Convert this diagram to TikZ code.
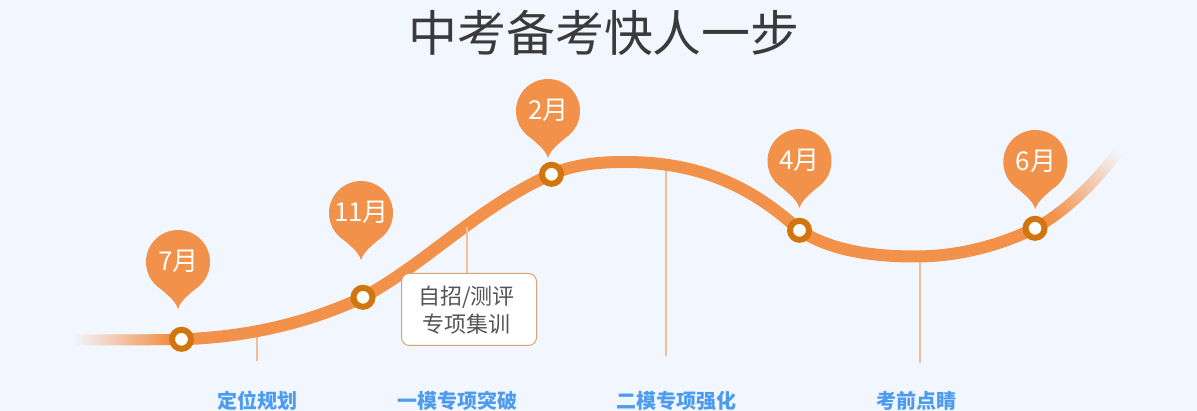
\documentclass[tikz,border=0pt]{standalone}
\usepackage{fontspec}
\setmainfont{Noto Sans CJK SC}
\definecolor{bgc}{HTML}{F2F7FF}
\definecolor{curvec}{HTML}{F29149}
\definecolor{ringc}{HTML}{D2750E}
\definecolor{stemc}{HTML}{F2BD97}
\definecolor{boxc}{HTML}{D4A673}
\definecolor{bluec}{HTML}{4D9BEF}
\definecolor{titlec}{HTML}{3A3A3A}
\definecolor{boxt}{HTML}{555555}
\tikzset{
  stem/.style={draw=stemc,line width=1.5pt},
  mainline/.style={draw=curvec,line width=12pt},
  stagelabel/.style={font=\fontsize{20}{20}\selectfont\bfseries,text=bluec,inner sep=0pt},
  monthlabel/.style={font=\fontsize{26}{26}\selectfont,text=white,inner sep=0pt},
  ringmark/.style={circle,draw=ringc,line width=6pt,fill=white,minimum size=19pt,inner sep=0pt},
  notebox/.style={draw=boxc,line width=1pt,fill=white,rounded corners=8pt,minimum width=135pt,minimum height=72pt,inner sep=0pt},
  notetext/.style={inner sep=0pt,align=center,text=boxt,font=\fontsize{22}{28}\selectfont},
  pinmark/.pic={
    \fill[curvec] (0,0) circle[radius=32pt];
    \fill[curvec] (-29,14) -- (-21,23) .. controls (-14,31) and (-3,37) .. (0,47) .. controls (3,37) and (14,31) .. (21,23) -- (29,14) -- cycle;
  }
}
\begin{document}
\begin{tikzpicture}[x=1pt,y=-1pt]
\useasboundingbox (0,0) rectangle (1197,411);
\fill[bgc] (0,0) rectangle (1197,411);
\node[inner sep=0pt,text=titlec,font=\fontsize{48.9}{48.9}\selectfont] (title) at (604,33) {中考备考快人一步};

% stems
\coordinate (s1) at (257,329);
\coordinate (s1e) at (257,361);
\coordinate (s2) at (467,227);
\coordinate (s3) at (666,167);
\coordinate (s3e) at (666,356);
\coordinate (s4) at (920,257);
\coordinate (s4e) at (920,363);
\draw[stem] (s1) -- (s1e);
\draw[stem] (s3) -- (s3e);
\draw[stem] (s4) -- (s4e);

% fading ends
\foreach \i in {0,...,49}{
  \pgfmathsetmacro{\ta}{\i/50}
  \pgfmathsetmacro{\tb}{(\i+1.3)/50}
  \pgfmathsetmacro{\p}{min(100,\ta*100/0.85)}
  \pgfmathsetmacro{\xa}{72*(1-\ta)^3+3*110*(1-\ta)^2*\ta+3*150*(1-\ta)*\ta^2+181.5*\ta^3}
  \pgfmathsetmacro{\xb}{72*(1-\tb)^3+3*110*(1-\tb)^2*\tb+3*150*(1-\tb)*\tb^2+181.5*\tb^3}
  \pgfmathsetmacro{\ya}{340*(1-\ta)^3+3*340*(1-\ta)^2*\ta+3*340*(1-\ta)*\ta^2+339.3*\ta^3}
  \pgfmathsetmacro{\yb}{340*(1-\tb)^3+3*340*(1-\tb)^2*\tb+3*340*(1-\tb)*\tb^2+339.3*\tb^3}
  \draw[draw={curvec!\p!bgc},line width=11pt] (\xa,\ya) -- (\xb,\yb);
}
\foreach \i in {0,...,49}{
  \pgfmathsetmacro{\ta}{\i/50}
  \pgfmathsetmacro{\tb}{(\i+1.3)/50}
  \pgfmathsetmacro{\p}{max(0,min(100,(1-\ta)*100/0.8))}
  \pgfmathsetmacro{\xa}{1035*(1-\ta)^3+3*1065*(1-\ta)^2*\ta+3*1095*(1-\ta)*\ta^2+1118*\ta^3}
  \pgfmathsetmacro{\xb}{1035*(1-\tb)^3+3*1065*(1-\tb)^2*\tb+3*1095*(1-\tb)*\tb^2+1118*\tb^3}
  \pgfmathsetmacro{\ya}{228.3*(1-\ta)^3+3*212*(1-\ta)^2*\ta+3*183*(1-\ta)*\ta^2+152*\ta^3}
  \pgfmathsetmacro{\yb}{228.3*(1-\tb)^3+3*212*(1-\tb)^2*\tb+3*183*(1-\tb)*\tb^2+152*\tb^3}
  \draw[draw={curvec!\p!bgc},line width=11pt] (\xa,\ya) -- (\xb,\yb);
}

% main curve
\draw[mainline] (181.5,339.3) .. controls (250,337) and (310,322) .. (363,297.3)
  .. controls (428,262) and (478,207) .. (551.5,174.3)
  .. controls (575,164) and (600,162) .. (625,162)
  .. controls (690,162) and (745,180) .. (799.5,230.3)
  .. controls (830,250) and (870,256.5) .. (915,256.5)
  .. controls (960,256.5) and (1000,245) .. (1035,228.3);

% note box
\node[notebox] (note) at (469,309.5) {};
\draw[stem] (s2) -- (s2 |- note.north);
\node[notetext] (notet) at (466.5,310.5) {自招/测评\\专项集训};

% ring marks
\node[ringmark] (m1) at (181.5,339.3) {};
\node[ringmark] (m2) at (363,297.3) {};
\node[ringmark] (m3) at (551.5,174.3) {};
\node[ringmark] (m4) at (799.5,230.3) {};
\node[ringmark] (m5) at (1035,228.3) {};

% pins
\pic at (178,262) {pinmark};
\pic at (361,213) {pinmark};
\pic at (548,111) {pinmark};
\pic at (799.5,161) {pinmark};
\pic at (1035.3,162) {pinmark};
\node[monthlabel] (t1) at (178.5,261.5) {7月};
\node[monthlabel] (t2) at (361.5,212.5) {11月};
\node[monthlabel] (t3) at (548.5,110.5) {2月};
\node[monthlabel] (t4) at (799.5,160.5) {4月};
\node[monthlabel] (t5) at (1036,161.5) {6月};

% stage labels
\node[stagelabel] (l1) at (257,401) {定位规划};
\node[stagelabel] (l2) at (457,401) {一模专项突破};
\node[stagelabel] (l3) at (676,401) {二模专项强化};
\node[stagelabel] (l4) at (916,401) {考前点睛};
\end{tikzpicture}
\end{document}
